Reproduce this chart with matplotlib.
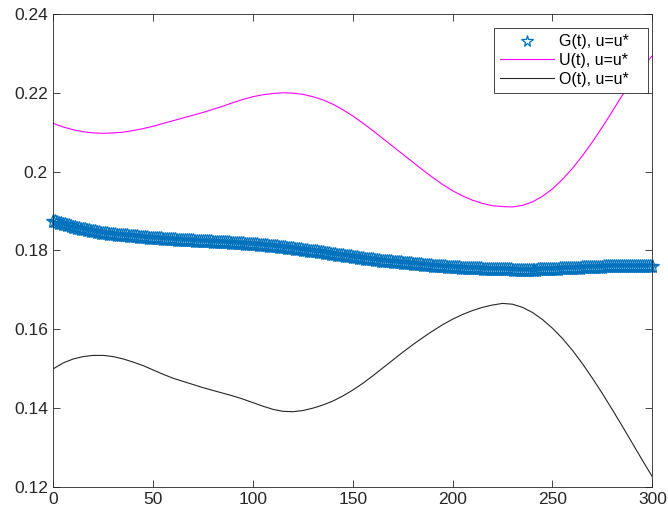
import numpy as np
from matplotlib import pyplot as plt

plt.rcParams['font.family'] = ['Liberation Sans', 'DejaVu Sans']

# G(t): one value per time unit, rows of ten (t = 0..9, 10..19, ...)
t_g = np.arange(0, 301)
g_vals = [
    .18750, .18735, .18720, .18705, .18690, .18675, .18660, .18645, .18630, .18615,
    .18600, .18585, .18570, .18560, .18550, .18540, .18530, .18520, .18510, .18500,
    .18490, .18480, .18470, .18460, .18450, .18445, .18440, .18430, .18420, .18415,
    .18410, .18405, .18400, .18395, .18390, .18385, .18380, .18375, .18370, .18365,
    .18360, .18355, .18350, .18345, .18340, .18335, .18330, .18325, .18320, .18315,
    .18310, .18305, .18300, .18300, .18300, .18295, .18290, .18285, .18280, .18280,
    .18280, .18275, .18270, .18265, .18260, .18260, .18260, .18255, .18250, .18250,
    .18250, .18245, .18240, .18240, .18240, .18235, .18230, .18230, .18230, .18225,
    .18220, .18220, .18220, .18215, .18210, .18210, .18210, .18205, .18200, .18195,
    .18190, .18190, .18190, .18185, .18180, .18175, .18170, .18170, .18170, .18165,
    .18160, .18155, .18150, .18145, .18140, .18135, .18130, .18125, .18120, .18115,
    .18110, .18105, .18100, .18095, .18090, .18085, .18080, .18070, .18060, .18055,
    .18050, .18040, .18030, .18025, .18020, .18015, .18010, .18000, .17990, .17985,
    .17980, .17975, .17970, .17960, .17950, .17945, .17940, .17930, .17920, .17915,
    .17910, .17900, .17890, .17885, .17880, .17870, .17860, .17855, .17850, .17845,
    .17840, .17830, .17820, .17815, .17810, .17800, .17790, .17785, .17780, .17775,
    .17770, .17765, .17760, .17750, .17740, .17735, .17730, .17725, .17720, .17715,
    .17710, .17705, .17700, .17695, .17690, .17685, .17680, .17675, .17670, .17665,
    .17660, .17655, .17650, .17645, .17640, .17635, .17630, .17625, .17620, .17615,
    .17610, .17605, .17600, .17595, .17590, .17590, .17590, .17585, .17580, .17575,
    .17570, .17570, .17570, .17565, .17560, .17560, .17560, .17555, .17550, .17550,
    .17550, .17545, .17540, .17540, .17540, .17535, .17530, .17530, .17530, .17530,
    .17530, .17525, .17520, .17520, .17520, .17520, .17520, .17520, .17520, .17515,
    .17510, .17510, .17510, .17510, .17510, .17510, .17510, .17510, .17510, .17510,
    .17510, .17510, .17510, .17515, .17520, .17520, .17520, .17520, .17520, .17525,
    .17530, .17530, .17530, .17535, .17540, .17540, .17540, .17545, .17550, .17550,
    .17550, .17555, .17560, .17560, .17560, .17565, .17570, .17570, .17570, .17575,
    .17580, .17580, .17580, .17580, .17580, .17585, .17590, .17590, .17590, .17590,
    .17590, .17595, .17600, .17600, .17600, .17600, .17600, .17600, .17600, .17600,
    .17600, .17600, .17600, .17600, .17600, .17600, .17600, .17600, .17600, .17600,
    .17600]

# U(t) and O(t): sampled every 5 time units
t_uo = np.arange(0, 301, 5)
u_vals = [0.2122, 0.2113, 0.2106, 0.2101, 0.2098, 0.2097, 0.2098, 0.2100,
          0.2104, 0.2109, 0.2115, 0.2122, 0.2129, 0.2136, 0.2143, 0.2150,
          0.2158, 0.2166, 0.2175, 0.2183, 0.2190, 0.2195, 0.2198, 0.2200,
          0.2199, 0.2196, 0.2190, 0.2182, 0.2171, 0.2157, 0.2141, 0.2123,
          0.2104, 0.2084, 0.2064, 0.2044, 0.2024, 0.2004, 0.1985, 0.1967,
          0.1951, 0.1938, 0.1927, 0.1919, 0.1913, 0.1911, 0.1910, 0.1914,
          0.1923, 0.1937, 0.1956, 0.1980, 0.2008, 0.2040, 0.2075, 0.2113,
          0.2153, 0.2194, 0.2232, 0.2266, 0.2294]
o_vals = [0.1499, 0.1514, 0.1524, 0.1530, 0.1533, 0.1533, 0.1530, 0.1524,
          0.1516, 0.1507, 0.1496, 0.1485, 0.1475, 0.1467, 0.1459, 0.1451,
          0.1444, 0.1437, 0.1430, 0.1422, 0.1413, 0.1404, 0.1396, 0.1391,
          0.1390, 0.1393, 0.1399, 0.1407, 0.1417, 0.1430, 0.1445, 0.1462,
          0.1481, 0.1501, 0.1521, 0.1541, 0.1560, 0.1578, 0.1595, 0.1611,
          0.1625, 0.1637, 0.1647, 0.1655, 0.1661, 0.1665, 0.1663, 0.1655,
          0.1642, 0.1624, 0.1602, 0.1576, 0.1546, 0.1512, 0.1475, 0.1436,
          0.1395, 0.1353, 0.1310, 0.1267, 0.1225]

fig = plt.figure(figsize=(6.68, 5.15), dpi=100)
ax = fig.add_axes([0.0798, 0.0553, 0.8967, 0.9175])

ax.plot(t_g, g_vals, linestyle='none', marker='*', markersize=10.5,
        fillstyle='none', markeredgewidth=0.9, color='#0072BD',
        clip_on=False, label='G(t), u=u*   ')
ax.plot(t_uo, u_vals, color='#FF00FF', linewidth=0.8, label='U(t), u=u*   ')
ax.plot(t_uo, o_vals, color='#262626', linewidth=0.8, label='O(t), u=u*   ')

ax.set_xlim(0, 300)
ax.set_ylim(0.12, 0.24)
ax.set_xticks([0, 50, 100, 150, 200, 250, 300])
ax.set_yticks([0.12, 0.14, 0.16, 0.18, 0.2, 0.22, 0.24])
ax.set_yticklabels(['0.12', '0.14', '0.16', '0.18', '0.2', '0.22', '0.24'])
ax.tick_params(direction='in', length=5, width=0.6, colors='#262626',
               labelsize=12.5, top=True, right=True, pad=4)
for s in ax.spines.values():
    s.set_color('#262626')
    s.set_linewidth(0.6)

leg = ax.legend(loc='upper right', bbox_to_anchor=(0.9933, 0.970), fontsize=11.5,
                handlelength=3.4, handletextpad=0.3, borderpad=0.37,
                labelspacing=0.25, borderaxespad=0, fancybox=False,
                framealpha=1, markerscale=0.8)
leg.get_frame().set_edgecolor('#262626')
leg.get_frame().set_linewidth(0.6)

fig.savefig('out.png', dpi=100)
